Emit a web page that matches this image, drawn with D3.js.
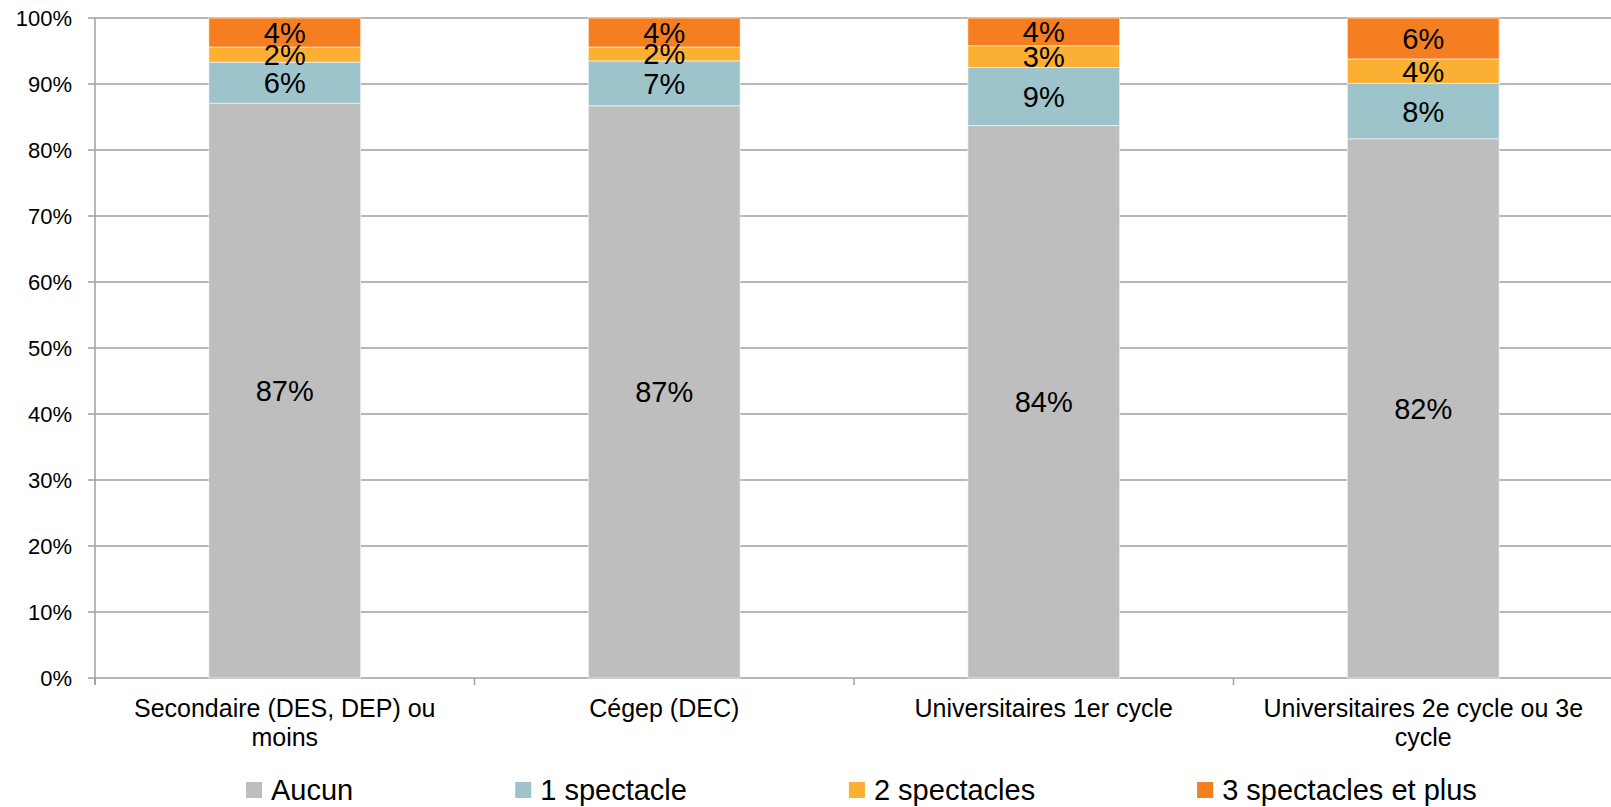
<!DOCTYPE html>
<html>
<head>
<meta charset="utf-8">
<script src="https://cdn.jsdelivr.net/npm/d3@7"></script>
<style>
  html, body { margin: 0; padding: 0; background: #fff; }
  svg { display: block; font-family: "Liberation Sans", Arial, sans-serif; }
</style>
</head>
<body>
<svg id="chart" width="1611" height="807"></svg>
<script>
// ---- Data ----
const categories = [
  "Secondaire (DES, DEP) ou moins",
  "Cégep (DEC)",
  "Universitaires 1er cycle",
  "Universitaires 2e cycle ou 3e cycle"
];
const seriesNames = ["Aucun", "1 spectacle", "2 spectacles", "3 spectacles et plus"];
const aucun  = [87.1, 86.7, 83.7, 81.7];
const un     = [6.2, 6.8, 8.8, 8.4];
const deux   = [2.3, 2.1, 3.3, 3.7];
const trois  = [4.4, 4.4, 4.2, 6.2];
const yTicks = [0, 10, 20, 30, 40, 50, 60, 70, 80, 90, 100];
const colors = ["#BEBEBE", "#9DC4CA", "#FBB034", "#F47E20"];

// ---- Build table ----
const seriesValues = [aucun, un, deux, trois];
const table = categories.map((c, i) => {
  const row = { cat: c };
  seriesNames.forEach((s, j) => row[s] = seriesValues[j][i]);
  return row;
});
const stacked = d3.stack().keys(seriesNames)(table);

// ---- Layout ----
const W = 1611, H = 807;
const plot = { left: 95, right: 1613, top: 18, bottom: 678 };
const svg = d3.select("#chart");

const x = d3.scaleBand().domain(categories)
  .range([plot.left, plot.right]).paddingInner(0.6).paddingOuter(0.3);
const y = d3.scaleLinear().domain([0, 100]).range([plot.bottom, plot.top]);
const color = d3.scaleOrdinal().domain(seriesNames).range(colors);

// Gridlines
svg.append("g").selectAll("line").data(yTicks).join("line")
  .attr("x1", plot.left - 7).attr("x2", W)
  .attr("y1", d => y(d)).attr("y2", d => y(d))
  .attr("stroke", "#A0A0A0").attr("stroke-width", 1.5);

// Y axis line
svg.append("line")
  .attr("x1", plot.left).attr("x2", plot.left)
  .attr("y1", y(100)).attr("y2", plot.bottom + 7)
  .attr("stroke", "#A0A0A0").attr("stroke-width", 1.5);

// X tick marks at band boundaries
const step = x.step();
const boundaries = d3.range(categories.length + 1).map(i => plot.left + i * step);
svg.append("g").selectAll("line").data(boundaries).join("line")
  .attr("x1", d => d).attr("x2", d => d)
  .attr("y1", plot.bottom).attr("y2", plot.bottom + 7)
  .attr("stroke", "#A0A0A0").attr("stroke-width", 1.5);

// Y tick labels
svg.append("g").selectAll("text").data(yTicks).join("text")
  .attr("x", 72).attr("y", d => y(d)).attr("dy", "0.36em")
  .attr("text-anchor", "end").attr("font-size", 22).attr("fill", "#000")
  .text(d => d + "%");

// Bars
const layers = svg.append("g").selectAll("g").data(stacked).join("g")
  .attr("fill", d => color(d.key));
layers.selectAll("rect").data(d => d).join("rect")
  .attr("x", d => x(d.data.cat))
  .attr("width", x.bandwidth())
  .attr("y", d => y(d[1]))
  .attr("height", d => y(d[0]) - y(d[1]))
  .attr("stroke", "rgba(255,255,255,0.55)").attr("stroke-width", 1);

// Data labels
const labels = svg.append("g");
stacked.forEach(layer => {
  labels.selectAll(null).data(layer).join("text")
    .attr("x", d => x(d.data.cat) + x.bandwidth() / 2)
    .attr("y", d => y((d[0] + d[1]) / 2))
    .attr("dy", "0.36em")
    .attr("text-anchor", "middle").attr("font-size", 29).attr("fill", "#000")
    .text(d => Math.round(d[1] - d[0]) + "%");
});

// X category labels (wrapped)
function wrapLines(text, width, fontSize) {
  const tmp = svg.append("text").attr("font-size", fontSize);
  const words = text.split(" ");
  const lines = [];
  let line = [];
  words.forEach(w => {
    const trial = line.concat([w]).join(" ");
    tmp.text(trial);
    if (tmp.node().getComputedTextLength() > width && line.length) {
      lines.push(line.join(" "));
      line = [w];
    } else {
      line.push(w);
    }
  });
  if (line.length) lines.push(line.join(" "));
  tmp.remove();
  return lines;
}
const xl = svg.append("g");
categories.forEach(c => {
  const lines = wrapLines(c, 360, 25);
  const t = xl.append("text")
    .attr("x", x(c) + x.bandwidth() / 2).attr("y", 717)
    .attr("text-anchor", "middle").attr("font-size", 25).attr("fill", "#000");
  lines.forEach((l, i) => {
    t.append("tspan").attr("x", x(c) + x.bandwidth() / 2)
      .attr("dy", i === 0 ? 0 : 29).text(l);
  });
});

// Legend
const legend = svg.append("g");
let lx = 246;
const sq = 16, gapText = 9, gapItem = 162, ly = 790;
seriesNames.forEach((s, i) => {
  legend.append("rect").attr("x", lx).attr("y", ly - sq / 2)
    .attr("width", sq).attr("height", sq).attr("fill", color(s));
  const t = legend.append("text").attr("x", lx + sq + gapText).attr("y", ly)
    .attr("dy", "0.36em").attr("font-size", 29).attr("fill", "#000").text(s);
  lx += sq + gapText + t.node().getComputedTextLength() + gapItem;
});
</script>
</body>
</html>
